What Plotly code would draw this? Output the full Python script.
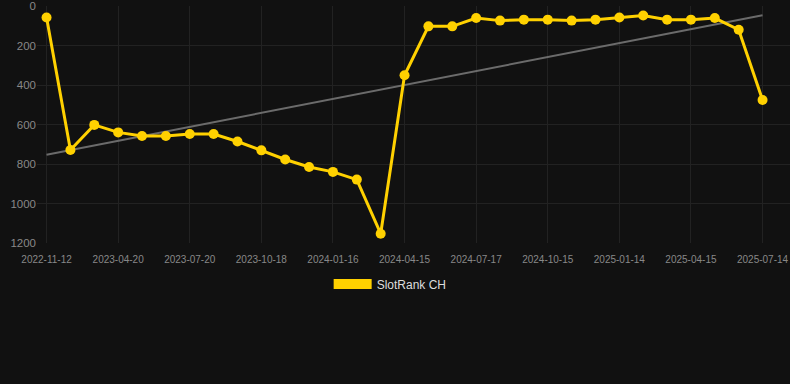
import numpy as np
import plotly.graph_objects as go

dates = [
    "2022-11-12", "2023-02-19", "2023-03-21", "2023-04-20", "2023-05-20", "2023-06-20",
    "2023-07-20", "2023-08-19", "2023-09-18", "2023-10-18", "2023-11-17", "2023-12-17",
    "2024-01-16", "2024-02-15", "2024-03-16", "2024-04-15", "2024-05-16", "2024-06-16",
    "2024-07-17", "2024-08-16", "2024-09-15", "2024-10-15", "2024-11-14", "2024-12-15",
    "2025-01-14", "2025-02-13", "2025-03-16", "2025-04-15", "2025-05-15", "2025-06-14",
    "2025-07-14",
]
rank_ch = [
    58, 729, 602, 640, 658, 658, 648, 648, 686, 731, 777, 815, 840, 879, 1153,
    351, 103, 103, 61, 74, 69, 69, 74, 69, 58, 48, 69, 69, 61, 120, 476,
]
tick_labels = [
    "2022-11-12", "2023-04-20", "2023-07-20", "2023-10-18", "2024-01-16", "2024-04-15",
    "2024-07-17", "2024-10-15", "2025-01-14", "2025-04-15", "2025-07-14",
]
y_ticks = [0, 200, 400, 600, 800, 1000, 1200]

GOLD = "#FFD100"
idx = np.arange(len(rank_ch))
slope, intercept = np.polyfit(idx, rank_ch, 1)
trend = [float(slope * i + intercept) for i in idx]

fig = go.Figure()
fig.add_trace(go.Scatter(
    x=dates, y=trend, mode="lines",
    line=dict(color="#6b6b6b", width=2),
    hoverinfo="skip", showlegend=False,
))
fig.add_trace(go.Scatter(
    x=dates, y=rank_ch, mode="lines+markers",
    line=dict(color=GOLD, width=3),
    marker=dict(color=GOLD, size=10),
    name="SlotRank CH", showlegend=False,
))
fig.add_trace(go.Scatter(
    x=[None], y=[None], mode="lines",
    line=dict(color=GOLD, width=11),
    name="SlotRank CH", showlegend=True,
))

fig.update_layout(
    width=790, height=384,
    paper_bgcolor="#111111", plot_bgcolor="#111111",
    margin=dict(l=37, r=0, t=6, b=141),
    font=dict(family="Liberation Sans, Arial, sans-serif", color="#888888"),
    legend=dict(
        orientation="h", x=0.469, xanchor="center", y=-0.173, yanchor="middle",
        font=dict(size=12, color="#dddddd"), bgcolor="rgba(0,0,0,0)",
        itemwidth=38,
    ),
)
fig.update_xaxes(
    type="category", categoryorder="array", categoryarray=dates,
    range=[-0.4, 31.15],
    tickmode="array", tickvals=tick_labels, ticktext=tick_labels,
    tickfont=dict(size=10, color="#888888"),
    ticklabelstandoff=9,
    showgrid=True, gridcolor="#222222", gridwidth=1,
    zeroline=False, showline=False, ticks="",
)
fig.update_yaxes(
    range=[1200, 0], tickmode="array", tickvals=y_ticks,
    tickfont=dict(size=11.5, color="#888888"),
    showgrid=True, gridcolor="#222222", gridwidth=1,
    zeroline=False, showline=False, ticks="",
)

fig.write_html(
    "out.html",
    config={"displayModeBar": False},
    post_script="document.body.style.margin='0';document.body.style.background='#111111';",
)
